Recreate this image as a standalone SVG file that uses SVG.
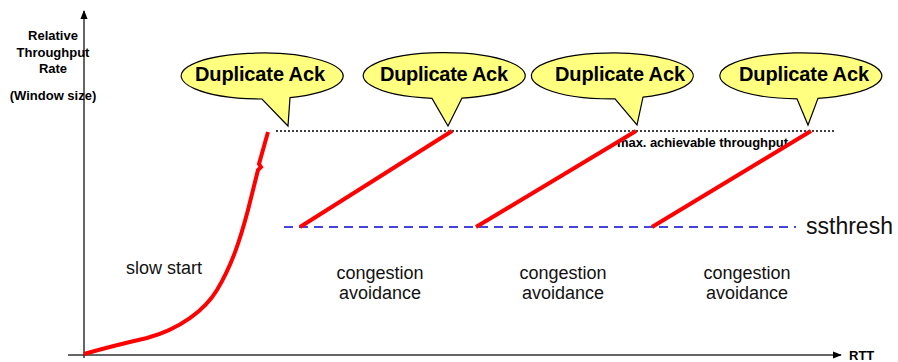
<svg xmlns="http://www.w3.org/2000/svg" width="898" height="362" viewBox="0 0 898 362">
  <style>
    .axis { stroke: #333; stroke-width: 1.5; fill: none; }
    .lbl { font-family: "Liberation Sans", Arial, sans-serif; font-weight: bold; font-size: 13px; fill: #000; }
    .txt { font-family: "Liberation Sans", Arial, sans-serif; font-size: 18px; fill: #111; text-anchor: middle; }
    .bub { fill: #ffff80; stroke: #000; stroke-width: 1.2; }
    .bubtxt { font-family: "Liberation Sans", Arial, sans-serif; font-weight: bold; font-size: 20px; fill: #000; text-anchor: middle; }
    .cwnd { stroke: #ff0000; stroke-width: 4; fill: none; stroke-linecap: butt; }
  </style>
  <defs>
    <marker id="arr" viewBox="0 0 10 10" refX="9" refY="5" markerWidth="9" markerHeight="9" orient="auto" markerUnits="userSpaceOnUse">
      <path d="M0,1 L10,5 L0,9 z" fill="#000"/>
    </marker>
  </defs>

  <!-- axes -->
  <g id="axes">
    <line class="axis" x1="84" y1="358" x2="84" y2="11" marker-end="url(#arr)"/>
    <line class="axis" x1="68" y1="355" x2="841" y2="355" marker-end="url(#arr)"/>
    <text class="lbl" x="53" y="40" text-anchor="middle">Relative</text>
    <text class="lbl" x="53" y="57" text-anchor="middle">Throughput</text>
    <text class="lbl" x="53" y="73" text-anchor="middle">Rate</text>
    <text class="lbl" x="53" y="100" text-anchor="middle">(Window size)</text>
    <text class="lbl" x="849" y="360" font-size="15">RTT</text>
  </g>

  <!-- reference levels -->
  <g id="levels">
    <line x1="276" y1="131" x2="836" y2="131" stroke="#000" stroke-width="1.5" stroke-dasharray="2,2"/>
    <line x1="284" y1="227" x2="796" y2="227" stroke="#4444dd" stroke-width="2" stroke-dasharray="9,6"/>
    <text class="lbl" x="617" y="147" textLength="171">max. achievable throughput</text>
    <text x="806" y="234" font-family="Liberation Sans, Arial, sans-serif" font-size="23" fill="#111">ssthresh</text>
  </g>

  <!-- congestion window trace -->
  <g id="connectors">
    <path class="cwnd" d="M84,354 C105,348 125,343 147,338 C180,329 205,310 217,290 C232,265 240,240 248,210 L258,170 L261,167 L259,164 L268,132"/>
    <line class="cwnd" x1="300" y1="227" x2="452" y2="131"/>
    <line class="cwnd" x1="476" y1="227" x2="636" y2="131"/>
    <line class="cwnd" x1="652" y1="227" x2="811" y2="131"/>
  </g>

  <!-- phase labels -->
  <g id="phases">
    <text class="txt" x="164" y="274">slow start</text>
    <text class="txt" x="380" y="279">congestion</text>
    <text class="txt" x="380" y="299">avoidance</text>
    <text class="txt" x="563" y="279">congestion</text>
    <text class="txt" x="563" y="299">avoidance</text>
    <text class="txt" x="747" y="279">congestion</text>
    <text class="txt" x="747" y="299">avoidance</text>
  </g>

  <!-- callouts: ellipse centre y=76, rx=81, ry=23 -->
  <g id="dupack1">
    <path class="bub" d="M262,99 A81,23 0 1 1 290,97.6 L288,126 Z"/>
    <text class="bubtxt" x="260" y="81" textLength="130">Duplicate Ack</text>
  </g>
  <g id="dupack2">
    <path class="bub" d="M432,98.4 A81,23 0 1 1 462,98.1 L448,126 Z"/>
    <text class="bubtxt" x="444" y="81" textLength="128">Duplicate Ack</text>
  </g>
  <g id="dupack3">
    <path class="bub" d="M615,98.9 A81,23 0 1 1 643,97.2 L637,125 Z"/>
    <text class="bubtxt" x="620" y="81" textLength="130">Duplicate Ack</text>
  </g>
  <g id="dupack4">
    <path class="bub" d="M797,98.8 A81,23 0 1 1 818,98.3 L808,125 Z"/>
    <text class="bubtxt" x="804" y="81" textLength="130">Duplicate Ack</text>
  </g>
</svg>
